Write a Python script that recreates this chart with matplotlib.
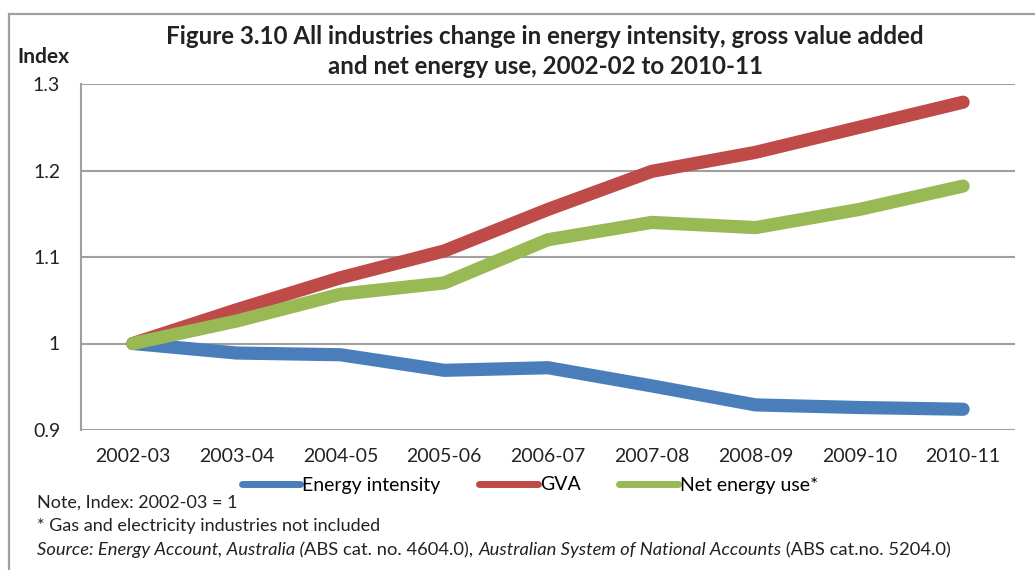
import matplotlib
matplotlib.use("Agg")
import matplotlib.pyplot as plt
from matplotlib.patches import Rectangle

plt.rcParams['font.family'] = ['Lato', 'DejaVu Sans']

years = ['2002-03', '2003-04', '2004-05', '2005-06', '2006-07',
         '2007-08', '2008-09', '2009-10', '2010-11']
energy_intensity = [1.0, 0.989, 0.987, 0.969, 0.972, 0.951, 0.929, 0.926, 0.924]
gva = [1.0, 1.039, 1.076, 1.107, 1.155, 1.199, 1.221, 1.250, 1.279]
net_energy = [1.0, 1.026, 1.057, 1.070, 1.120, 1.140, 1.134, 1.155, 1.182]
yticks = [0.9, 1.0, 1.1, 1.2, 1.3]
ytick_labels = ['0.9', '1', '1.1', '1.2', '1.3']

W, H = 1035, 570
fig = plt.figure(figsize=(W / 100, H / 100), dpi=100)

# outer frame (top and left visible)
fig.patches.append(Rectangle((9 / W, -0.1), 1.2, 1 - 14 / H + 0.1,
                             transform=fig.transFigure, fill=False,
                             edgecolor='#a0a0a0', linewidth=1.6))

ax = fig.add_axes([81 / W, 1 - 430 / H, (1015 - 81) / W, (430 - 84) / H])
x = range(len(years))
ax.plot(x, energy_intensity, color='#4a7ebb', lw=9.5, solid_capstyle='round',
        solid_joinstyle='round', label='Energy intensity')
ax.plot(x, gva, color='#be4b48', lw=9.5, solid_capstyle='round',
        solid_joinstyle='round', label='GVA')
ax.plot(x, net_energy, color='#98b954', lw=9.5, solid_capstyle='round',
        solid_joinstyle='round', label='Net energy use*')

ax.set_xlim(-0.5, len(years) - 0.5)
ax.set_ylim(0.9, 1.3)
ax.set_yticks(yticks)
ax.set_yticklabels(ytick_labels)
ax.set_xticks(list(x))
ax.set_xticklabels(years)
ax.tick_params(axis='both', length=0, labelsize=14, colors='#222222')
ax.tick_params(axis='y', pad=15)
ax.tick_params(axis='x', pad=13)
ax.grid(axis='y', color='#a0a0a0', lw=1.5)
ax.set_axisbelow(True)
for s in ['top', 'right', 'bottom']:
    ax.spines[s].set_visible(False)
ax.spines['left'].set_color('#a0a0a0')
ax.spines['left'].set_linewidth(1.5)

leg = ax.legend(loc='center', bbox_to_anchor=(530 / W, 1 - 485 / H),
                bbox_transform=fig.transFigure, ncol=3, frameon=False,
                fontsize=14, handlelength=3.0, handletextpad=0.1,
                columnspacing=2.0)
for line in leg.get_lines():
    line.set_linewidth(5)

fig.text(545 / W, 1 - 37 / H,
         'Figure 3.10 All industries change in energy intensity, gross value added',
         ha='center', va='center', fontsize=17.4, fontweight='bold', color='#222222')
fig.text(545 / W, 1 - 67 / H,
         'and net energy use, 2002-02 to 2010-11',
         ha='center', va='center', fontsize=17.4, fontweight='bold', color='#222222')
fig.text(43 / W, 1 - 57 / H, 'Index', ha='center', va='center',
         fontsize=15, fontweight='bold', color='#222222')

fig.text(37 / W, 1 - 503 / H, 'Note, Index: 2002-03 = 1', ha='left', va='center',
         fontsize=13, color='#222222')
fig.text(37 / W, 1 - 526 / H, '* Gas and electricity industries not included',
         ha='left', va='center', fontsize=13, color='#222222')

# source line with mixed italic / normal pieces
pieces = [('Source: Energy Account, Australia (', 'italic'),
          ('ABS cat. no. 4604.0), ', 'normal'),
          ('Australian System of National Accounts', 'italic'),
          (' (ABS cat.no. 5204.0)', 'normal')]
fig.canvas.draw()
r = fig.canvas.get_renderer()
xpos = 37
for txt, style in pieces:
    t = fig.text(xpos / W, 1 - 550 / H, txt, ha='left', va='center',
                 fontsize=13.2, style=style, color='#222222')
    bb = t.get_window_extent(renderer=r)
    xpos += bb.width

fig.savefig('out.png', dpi=100)
